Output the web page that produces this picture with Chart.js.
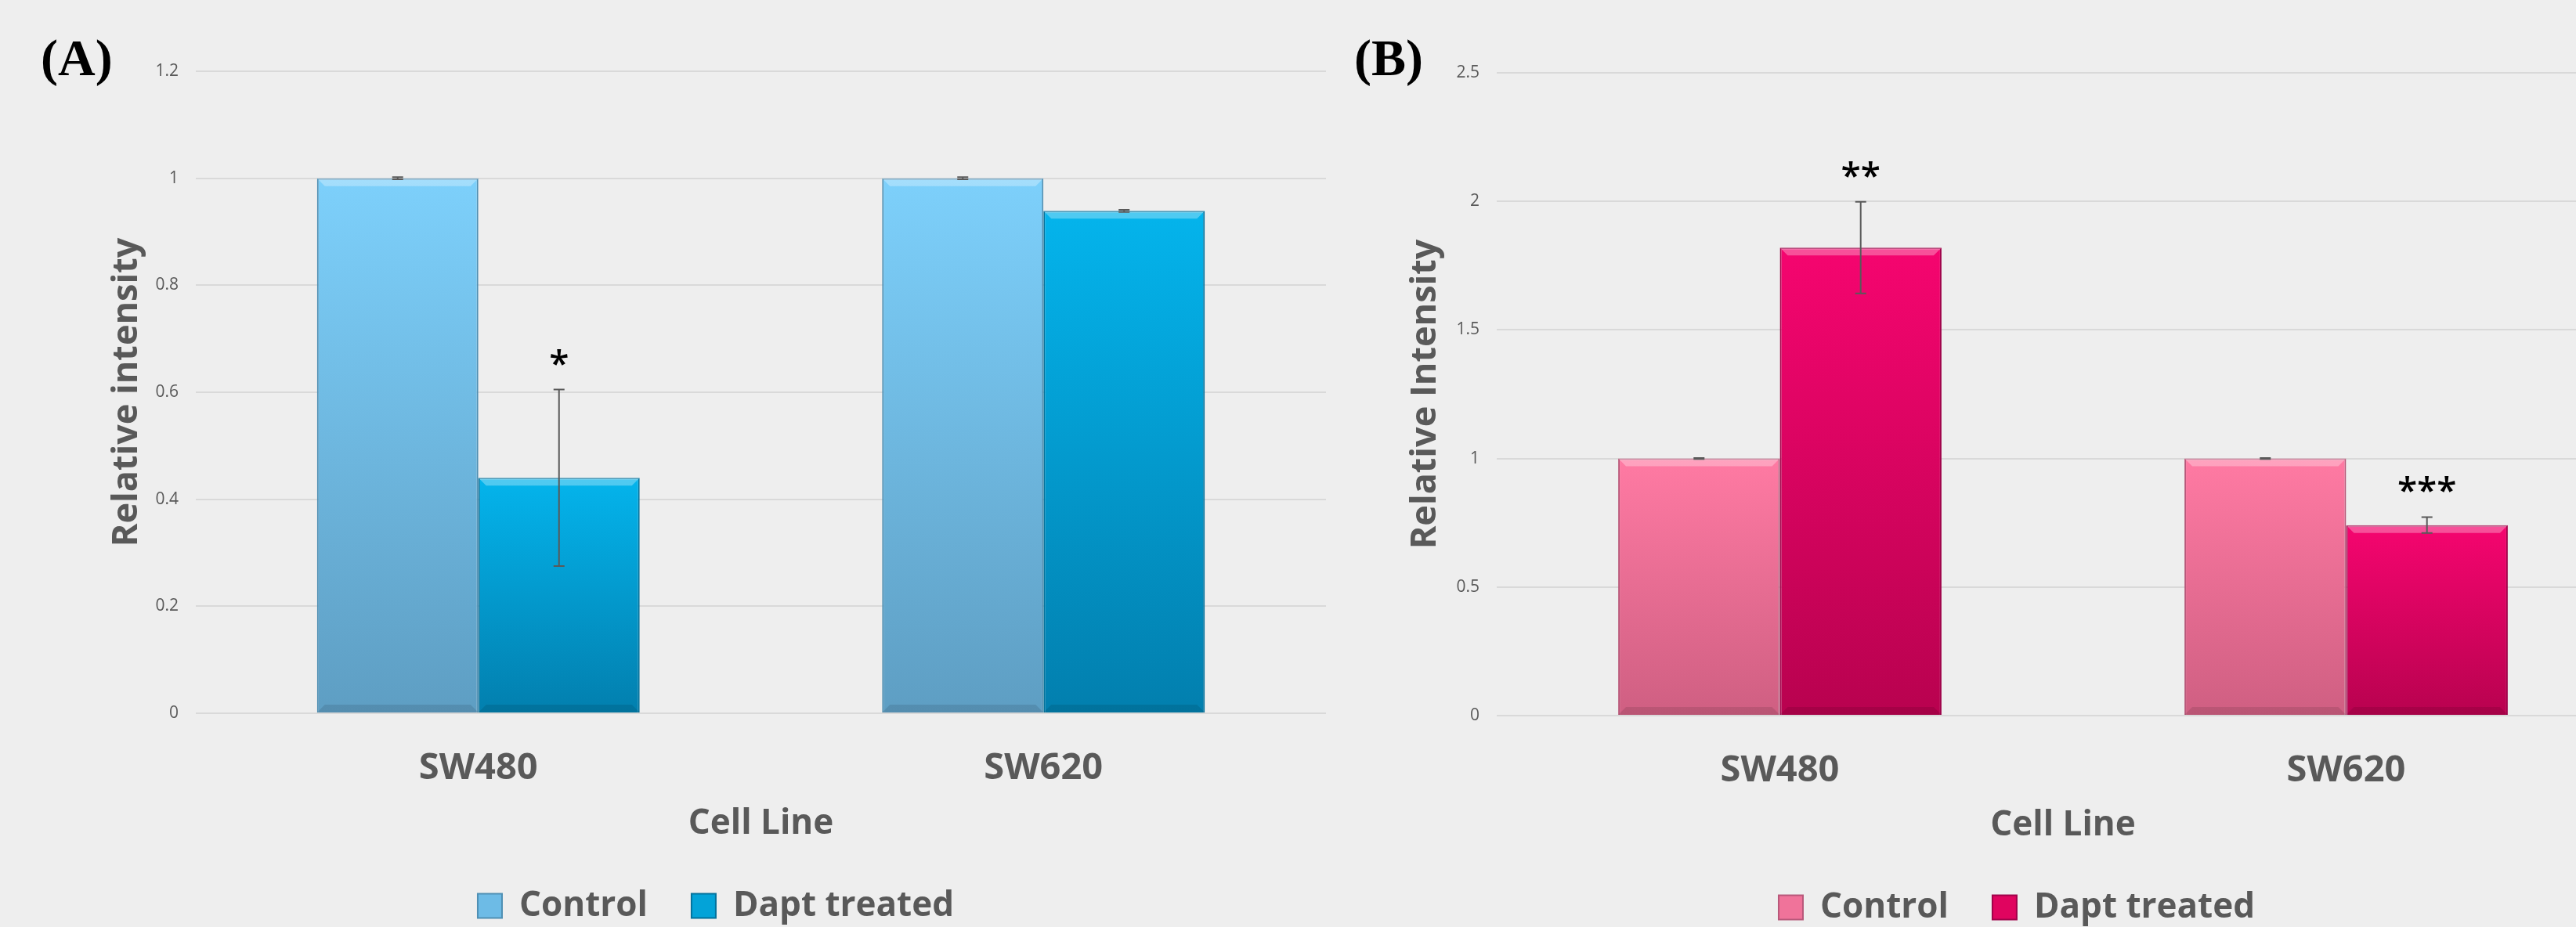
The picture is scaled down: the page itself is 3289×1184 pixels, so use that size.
<!DOCTYPE html>
<html>
<head>
<meta charset="utf-8">
<script src="https://cdn.jsdelivr.net/npm/chart.js@4.4.1/dist/chart.umd.min.js"></script>
<style>
    html, body {
        margin: 0;
        padding: 0;
        width: 3289px;
        height: 1184px;
        overflow: hidden;
        background: #eeeeee;
    }
    canvas {
        position: absolute;
        top: 0;
    }
    .panel-label {
        position: absolute;
        top: 41px;
        font-family: "Liberation Serif", "Times New Roman", serif;
        font-weight: bold;
        font-size: 66px;
        line-height: 66px;
        color: #000;
    }
</style>
</head>
<body>
<div class="panel-label" style="left: 52px;">(A)</div>
<div class="panel-label" style="left: 1729px;">(B)</div>
<canvas id="chartA" width="1558" height="1189" style="left: 135px;"></canvas>
<canvas id="chartB" width="1564" height="1191" style="left: 1793px;"></canvas>
<script>
const cellLines = ['SW480', 'SW620'];
const seriesNames = ['Control', 'Dapt treated'];

// Panel A - Relative intensity
const controlA = [1, 1];
const controlErrA = [0.002, 0.002];
const daptA = [0.44, 0.939];
const daptErrA = [0.165, 0.002];
const sigA = ['*', ''];
const yMaxA = 1.2;
const yStepA = 0.2;

// Panel B - Relative Intensity
const controlB = [1, 1];
const controlErrB = [0.002, 0.002];
const daptB = [1.82, 0.741];
const daptErrB = [0.178, 0.031];
const sigB = ['**', '***'];
const yMaxB = 2.5;
const yStepB = 0.5;

const textGrey = '#595959';
const gridGrey = '#d9d9d9';

// vertical gradient per bar, from its top down to the zero line
function barGradient(top, bottom) {
    return function(context) {
        const chart = context.chart;
        if (!chart.chartArea || context.type !== 'data') return top;
        const y = chart.scales.y;
        const y0 = y.getPixelForValue(0);
        const y1 = y.getPixelForValue(context.raw);
        if (!isFinite(y0) || !isFinite(y1) || y0 === y1) return top;
        const g = chart.ctx.createLinearGradient(0, y1, 0, y0);
        g.addColorStop(0, top);
        g.addColorStop(1, bottom);
        return g;
    };
}

// bevel, error bars and significance stars
const barExtras = {
    id: 'barExtras',
    afterDatasetsDraw(chart) {
        const ctx = chart.ctx;
        const yScale = chart.scales.y;
        ctx.save();
        chart.data.datasets.forEach((ds, i) => {
            const meta = chart.getDatasetMeta(i);
            meta.data.forEach((bar, j) => {
                const p = bar.getProps(['x', 'y', 'base', 'width'], true);
                const left = p.x - p.width / 2;
                const right = p.x + p.width / 2;
                const b = 10;
                // top bevel
                ctx.fillStyle = 'rgba(255,255,255,0.30)';
                ctx.beginPath();
                ctx.moveTo(left, p.y);
                ctx.lineTo(right, p.y);
                ctx.lineTo(right - b, p.y + b);
                ctx.lineTo(left + b, p.y + b);
                ctx.closePath();
                ctx.fill();
                // bottom bevel
                ctx.fillStyle = 'rgba(0,0,0,0.10)';
                ctx.beginPath();
                ctx.moveTo(left, p.base);
                ctx.lineTo(right, p.base);
                ctx.lineTo(right - b, p.base - b);
                ctx.lineTo(left + b, p.base - b);
                ctx.closePath();
                ctx.fill();
            });
        });
        chart.data.datasets.forEach((ds, i) => {
            const meta = chart.getDatasetMeta(i);
            meta.data.forEach((bar, j) => {
                const v = ds.data[j];
                const err = ds.errors[j];
                const x = bar.x;
                const yTop = yScale.getPixelForValue(v + err);
                const yBot = yScale.getPixelForValue(v - err);
                ctx.strokeStyle = '#595959';
                ctx.lineWidth = 2;
                ctx.beginPath();
                ctx.moveTo(x, yTop);
                ctx.lineTo(x, yBot);
                ctx.moveTo(x - 7, yTop);
                ctx.lineTo(x + 7, yTop);
                ctx.moveTo(x - 7, yBot);
                ctx.lineTo(x + 7, yBot);
                ctx.stroke();
                const sig = ds.sig[j];
                if (sig) {
                    ctx.fillStyle = '#000';
                    ctx.font = '600 46px "Open Sans"';
                    ctx.textAlign = 'center';
                    ctx.textBaseline = 'alphabetic';
                    ctx.fillText(sig, x, yTop - 18);
                }
            });
        });
        ctx.restore();
    }
};

function makeChart(canvasId, cfg) {
    const ctx = document.getElementById(canvasId).getContext('2d');
    return new Chart(ctx, {
        type: 'bar',
        data: {
            labels: cellLines,
            datasets: [{
                label: seriesNames[0],
                data: cfg.control,
                errors: cfg.controlErr,
                sig: ['', ''],
                backgroundColor: barGradient(cfg.colors[0][0], cfg.colors[0][1]),
                borderColor: cfg.colors[0][2],
                legendColor: cfg.colors[0][3],
                borderWidth: 2,
                categoryPercentage: 0.571,
                barPercentage: 1
            }, {
                label: seriesNames[1],
                data: cfg.dapt,
                errors: cfg.daptErr,
                sig: cfg.sig,
                backgroundColor: barGradient(cfg.colors[1][0], cfg.colors[1][1]),
                borderColor: cfg.colors[1][2],
                legendColor: cfg.colors[1][3],
                borderWidth: 2,
                categoryPercentage: 0.571,
                barPercentage: 1
            }]
        },
        options: {
            responsive: false,
            animation: false,
            layout: {
                padding: { top: cfg.top, left: 0, right: 0, bottom: 0 }
            },
            plugins: {
                tooltip: { enabled: false },
                legend: {
                    position: 'bottom',
                    labels: {
                        boxWidth: 31,
                        boxHeight: 31,
                        padding: 56,
                        color: textGrey,
                        font: { family: 'Open Sans', size: 44, weight: 'bold' },
                        generateLabels: function(chart) {
                            return chart.data.datasets.map((ds, i) => ({
                                text: ds.label,
                                fillStyle: ds.legendColor,
                                strokeStyle: ds.borderColor,
                                lineWidth: 2,
                                fontColor: textGrey,
                                hidden: false,
                                datasetIndex: i
                            }));
                        }
                    }
                }
            },
            scales: {
                x: {
                    grid: { display: false, drawTicks: false },
                    border: { display: false },
                    ticks: {
                        padding: 42,
                        color: textGrey,
                        font: { family: 'Open Sans', size: 47, weight: 'bold' }
                    },
                    title: {
                        display: true,
                        text: 'Cell Line',
                        color: textGrey,
                        padding: 0,
                        font: { family: 'Open Sans', size: 44, weight: 'bold' }
                    },
                    afterFit: function(scale) {
                        scale.height = cfg.xHeight;
                    }
                },
                y: {
                    min: 0,
                    max: cfg.yMax,
                    grid: { color: gridGrey, lineWidth: 2, drawTicks: false },
                    border: { display: false },
                    ticks: {
                        stepSize: cfg.yStep,
                        padding: 22,
                        color: textGrey,
                        font: { family: 'Open Sans', size: 21 },
                        callback: function(value) {
                            return String(+value.toFixed(1));
                        }
                    },
                    title: {
                        display: true,
                        text: cfg.yTitle,
                        color: textGrey,
                        padding: 0,
                        font: { family: 'Open Sans', size: 45, weight: 'bold' }
                    },
                    afterFit: function(scale) {
                        scale.width = cfg.yWidth;
                    }
                }
            }
        },
        plugins: [barExtras]
    });
}

makeChart('chartA', {
    control: controlA,
    controlErr: controlErrA,
    dapt: daptA,
    daptErr: daptErrA,
    sig: sigA,
    yMax: yMaxA,
    yStep: yStepA,
    yTitle: 'Relative intensity',
    top: 91,
    xHeight: 168,
    yWidth: 115,
    colors: [
        ['#7dd0fb', '#5e9ec3', '#4f8fb3', '#6dbbe6'],
        ['#04b4ec', '#027fae', '#03729c', '#03a3d8']
    ]
});

makeChart('chartB', {
    control: controlB,
    controlErr: controlErrB,
    dapt: daptB,
    daptErr: daptErrB,
    sig: sigB,
    yMax: yMaxB,
    yStep: yStepB,
    yTitle: 'Relative Intensity',
    top: 93,
    xHeight: 167,
    yWidth: 118,
    colors: [
        ['#ff7aa3', '#cf5f82', '#b8587a', '#f0739a'],
        ['#f5056f', '#b8024f', '#a0024a', '#e0045f']
    ]
});
</script>
</body>
</html>
